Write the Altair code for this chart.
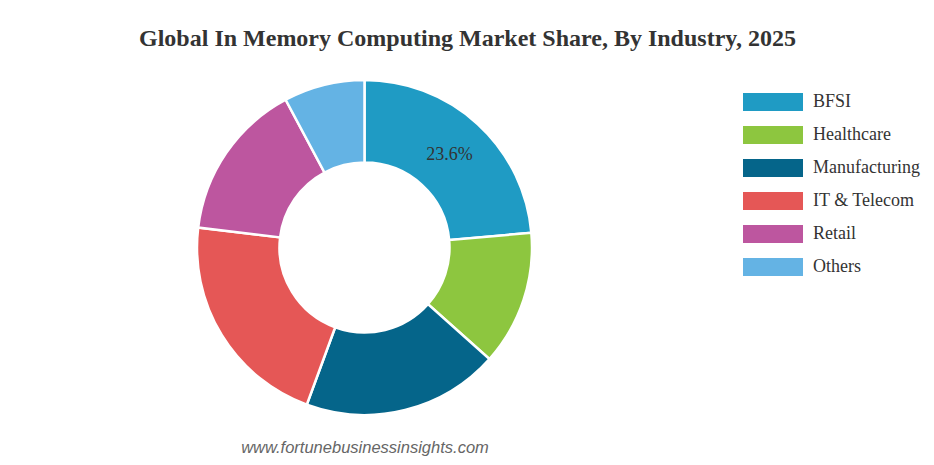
import altair as alt
import pandas as pd

industries = ["BFSI", "Healthcare", "Manufacturing", "IT & Telecom", "Retail", "Others"]
shares = [23.6, 13.0, 19.0, 21.3, 15.3, 7.8]
colors = ["#1f9bc4", "#8dc63f", "#05658a", "#e55756", "#bd569f", "#64b3e4"]
slice_labels = ["23.6%", "", "", "", "", ""]
title_text = ["Global In Memory Computing Market Share, By Industry, 2025"]
source_text = ["www.fortunebusinessinsights.com"]

CX, CY = 356.5, 239.5

df = pd.DataFrame({
    "industry": industries,
    "share": shares,
    "order": list(range(len(industries))),
    "label": slice_labels,
})

base = alt.Chart(df).encode(
    theta=alt.Theta("share:Q", stack=True),
    order=alt.Order("order:Q"),
)

arcs = base.mark_arc(innerRadius=85, outerRadius=167.5, stroke="white", strokeWidth=2.5).encode(
    color=alt.Color(
        "industry:N",
        scale=alt.Scale(domain=industries, range=colors),
        sort=industries,
        legend=alt.Legend(
            title=None,
            orient="none",
            legendX=735,
            legendY=85,
            symbolType="M-1,-0.3H1V0.3H-1Z",
            symbolSize=3600,
            symbolStrokeWidth=0,
            symbolOpacity=1,
            clipHeight=18,
            labelFont="Liberation Serif",
            labelFontSize=18,
            labelColor="#333333",
            labelOffset=10,
            rowPadding=15,
        ),
    ),
    x=alt.value(CX),
    y=alt.value(CY),
)

labels = base.mark_text(radius=126, font="Liberation Serif", fontSize=18, color="#333333").encode(
    detail="industry:N",
    text="label:N",
    x=alt.value(CX),
    y=alt.value(CY),
)

title = alt.Chart(pd.DataFrame({"t": title_text})).mark_text(
    font="Liberation Serif", fontSize=24, fontWeight="bold", color="#333333",
    align="center", baseline="alphabetic",
).encode(text="t:N", x=alt.value(459.5), y=alt.value(38))

source = alt.Chart(pd.DataFrame({"t": source_text})).mark_text(
    font="Liberation Sans", fontSize=16.5, fontStyle="italic", color="#666666",
    align="center", baseline="alphabetic",
).encode(text="t:N", x=alt.value(357), y=alt.value(445))

chart = alt.layer(arcs, labels, title, source).properties(
    width=918, height=449, padding=0, autosize="none"
).configure_view(stroke=None)

chart.save("out.html", embed_options={"renderer": "svg", "actions": False})
